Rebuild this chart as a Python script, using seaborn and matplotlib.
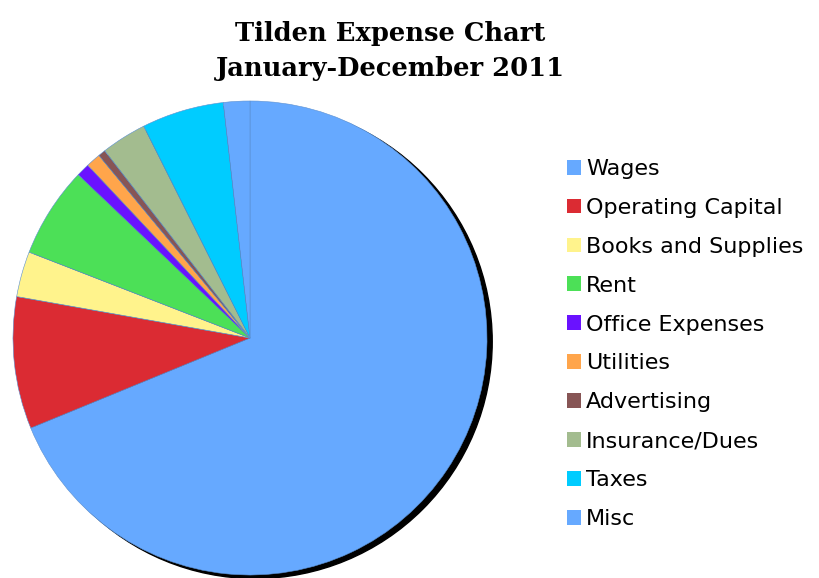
import numpy as np
import matplotlib
matplotlib.use("Agg")
import matplotlib.pyplot as plt
from matplotlib.patches import Circle, Patch
import seaborn as sns

# expense categories and their share of total spending (percent)
categories = ["Wages", "Operating Capital", "Books and Supplies", "Rent",
              "Office Expenses", "Utilities", "Advertising", "Insurance/Dues",
              "Taxes", "Misc"]
shares = [68.8, 9.0, 3.1, 6.2, 0.9, 1.0, 0.5, 3.1, 5.6, 1.8]
slice_colors = ["#66A9FF", "#DB2B33", "#FFF38C", "#4CE057", "#6A12FF",
                "#FFA54B", "#875555", "#A3BC8F", "#00CCFF", "#66A9FF"]

sns.set_style("white")
plt.rcParams["text.color"] = "black"
palette = sns.color_palette(slice_colors)

fig = plt.figure(figsize=(8.2, 5.78), dpi=100)
ax = fig.add_axes([250/820 - 237/820, (240 - 237)/578, 474/820, 474/578])

# black drop shadow behind the pie
ax.add_patch(Circle((0.022, -0.015), 1.0, color="black", zorder=0, clip_on=False))
wedges, _ = ax.pie(shares, colors=palette, startangle=90, counterclock=False,
                   radius=1.0, wedgeprops=dict(edgecolor="#5a8fd0", linewidth=0.4))
for w in wedges:
    w.set_zorder(1)
    w.set_clip_on(False)
ax.set_xlim(-1, 1)
ax.set_ylim(-1, 1)
ax.axis("off")

fig.text(0.476, 0.911, "Tilden Expense Chart\nJanuary-December 2011",
         ha="center", va="center", fontsize=18.5, fontweight="bold",
         family="DejaVu Serif", linespacing=1.5)

handles = [Patch(facecolor=c, edgecolor="none") for c in palette]
fig.legend(handles, categories, loc="upper left", bbox_to_anchor=(0.691, 0.725),
           frameon=False, fontsize=16, handlelength=0.65, handleheight=0.65,
           handletextpad=0.23, labelspacing=0.85, borderpad=0, borderaxespad=0)

fig.savefig("out.png", dpi=100)
